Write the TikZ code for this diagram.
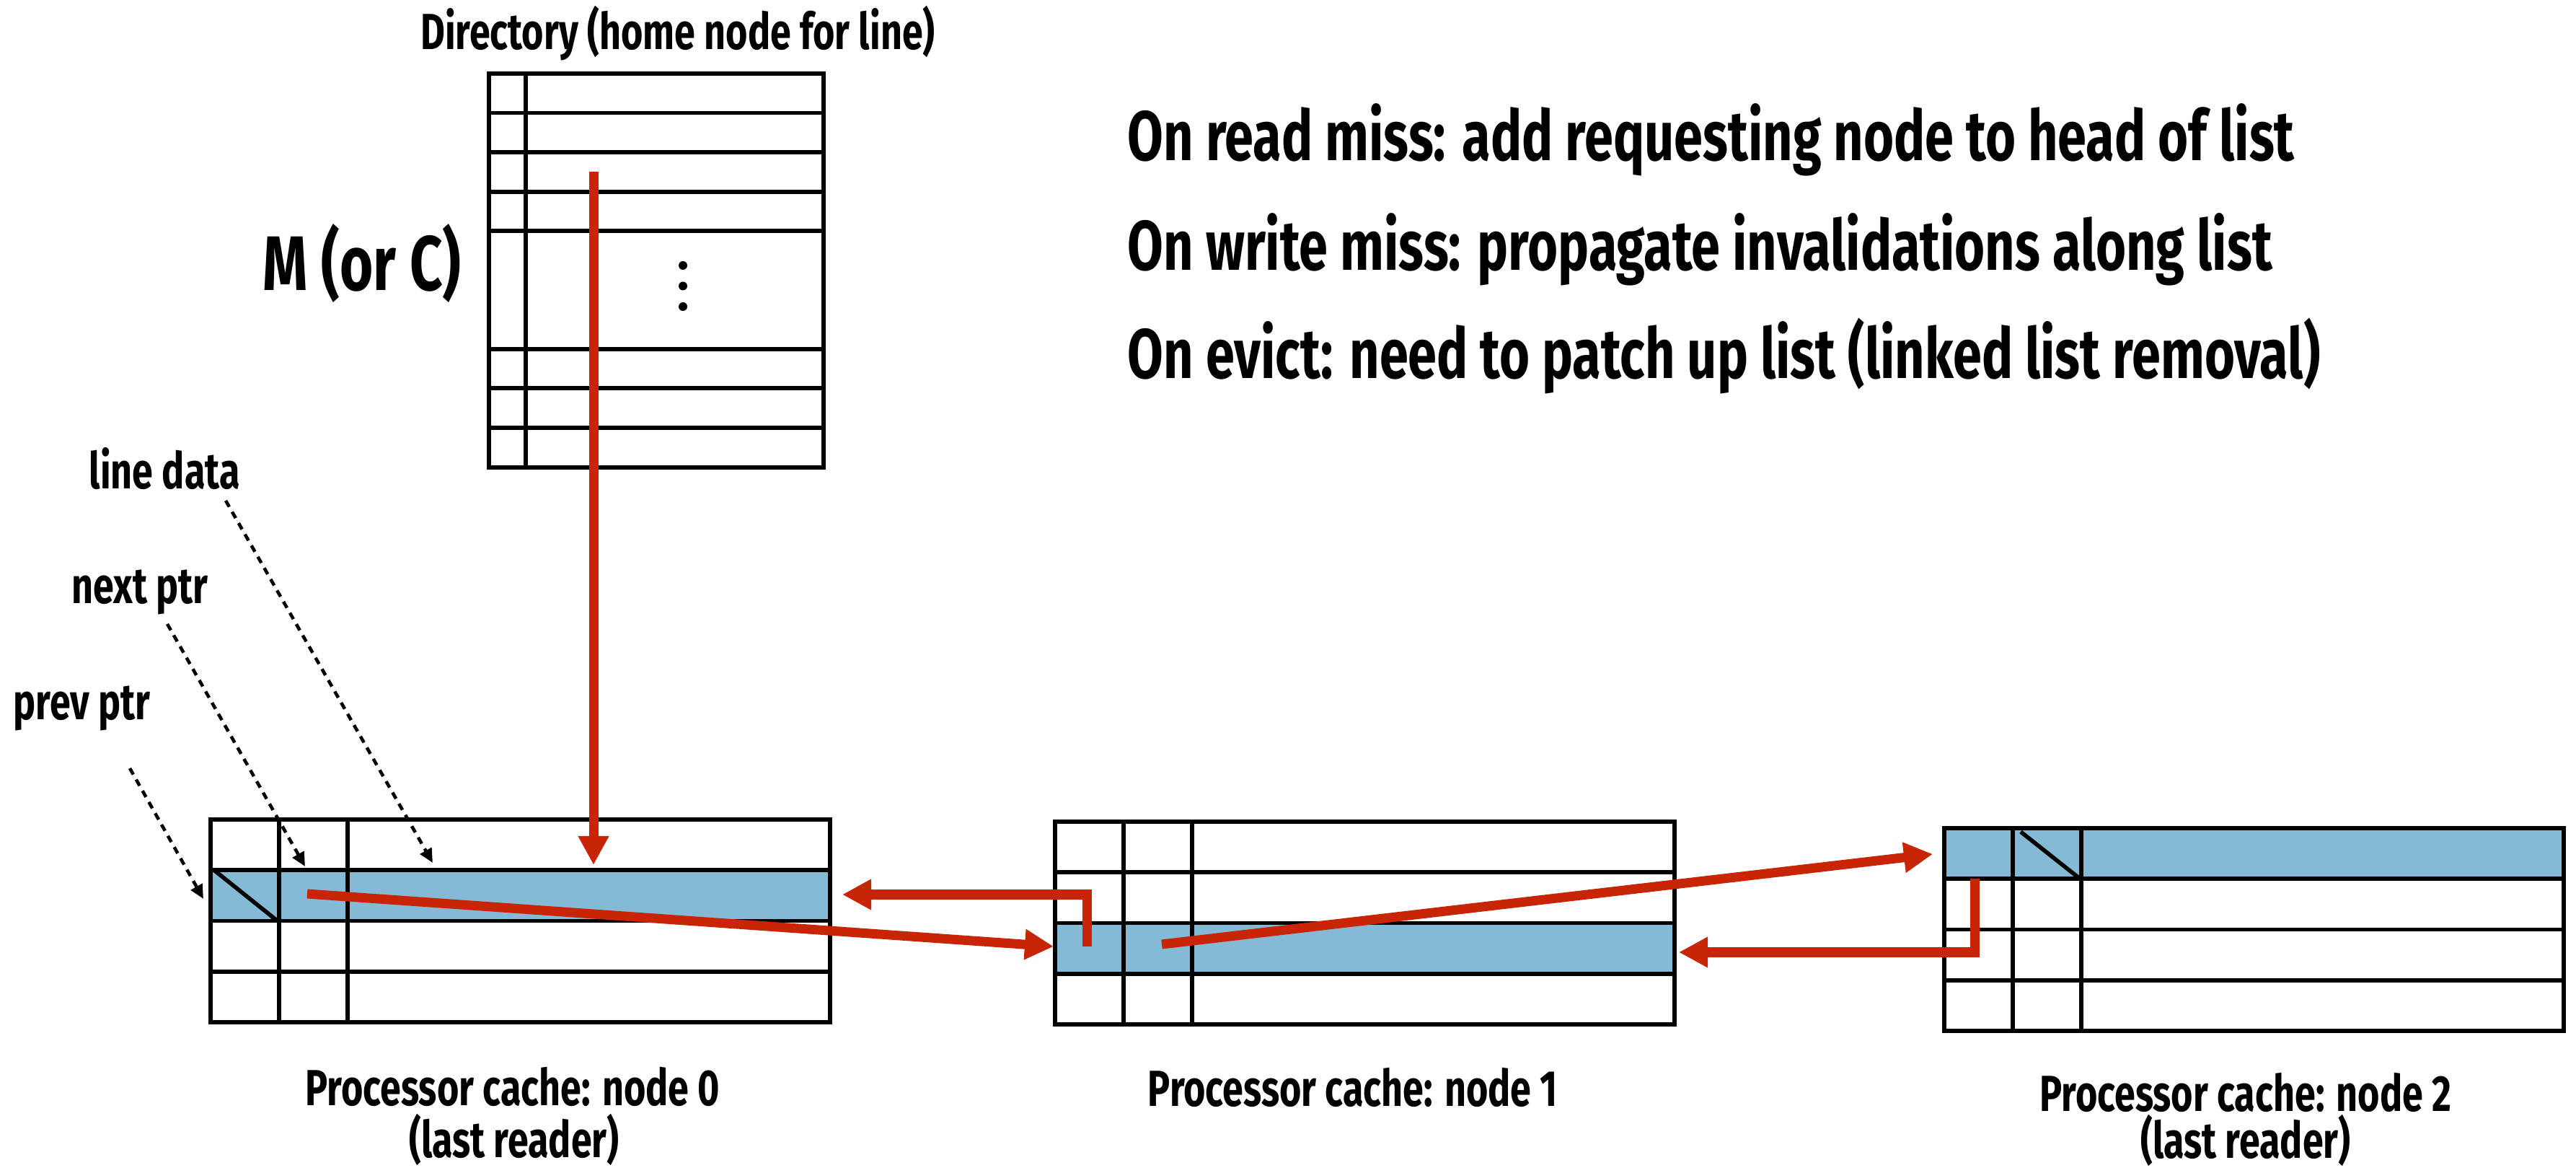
\documentclass[tikz,border=0pt]{standalone}
\usepackage{fontspec}
\setmainfont{Fira Sans}[FakeStretch=0.74]
\usetikzlibrary{calc}
\usetikzlibrary{arrows.meta}
\usetikzlibrary{positioning}

\definecolor{listred}{RGB}{200,37,6}
\definecolor{lineblue}{RGB}{133,186,214}

\tikzset{
  cellline/.style={black, line width=1.6pt},
  redarr/.style={draw=listred, line width=3.7pt, -{Triangle[length=0.4cm, width=0.4cm]}},
  ptr/.style={black, line width=1.3pt, dash pattern=on 2.8pt off 2.3pt, -{Triangle[length=5.5pt, width=5pt]}},
  lbl/.style={font=\bfseries\fontsize{20}{23}\selectfont, inner sep=0pt},
  big/.style={font=\bfseries\fontsize{30.5}{35}\selectfont, inner sep=0pt},
  rule/.style={font=\bfseries\fontsize{27.7}{32}\selectfont, inner sep=0pt, anchor=base west},
}

\begin{document}
\begin{tikzpicture}[x=1cm, y=-1cm]
\useasboundingbox (0,0) rectangle (35.72,16.26);

% directory
\coordinate (D) at (6.78,1.02);
\draw[cellline] (D) rectangle ++(4.64,5.46);
\draw[cellline] (7.29,1.02) -- (7.29,6.48);
\foreach \y in {1.566,2.11,2.66,3.20,4.84,5.38,5.93}
  \draw[cellline] (6.78,\y) -- (11.42,\y);
\foreach \y in {3.68,3.965,4.25}
  \fill (9.47,\y) circle (0.06);

% processor caches (index / x / y / highlighted row)
\foreach \n/\x/\y/\h in {0/2.92/11.36/1, 1/14.63/11.39/2, 2/26.96/11.48/0} {
  \begin{scope}[shift={(\x,\y)}]
    \coordinate (c\n) at (0,0);
    \fill[lineblue] (0,\h*0.703) rectangle (8.59,\h*0.703+0.703);
    \draw[cellline] (0,0) rectangle (8.59,2.81);
    \foreach \r in {1,2,3}
      \draw[cellline] (0,\r*0.703) -- (8.59,\r*0.703);
    \draw[cellline] (0.95,0) -- (0.95,2.81);
    \draw[cellline] (1.90,0) -- (1.90,2.81);
  \end{scope}
}
% null pointers
\draw[cellline] ($(c0)+(0.05,0.703)$) -- ($(c0)+(0.92,1.40)$);
\draw[cellline] ($(c2)+(1.06,0.05)$) -- ($(c2)+(1.88,0.70)$);

% labels
\node[lbl, anchor=base] (dirlbl) at (9.40,0.69) {Directory (home node for line)};
\node[big, anchor=base] (mc) at (5.02,4.03) {M (or C)};
\node[rule] (r1) at (15.63,2.23) {On read miss: add requesting node to head of list};
\node[rule] (r2) at (15.63,3.75) {On write miss: propagate invalidations along list};
\node[rule] (r3) at (15.63,5.25) {On evict: need to patch up list (linked list removal)};

\node[lbl, anchor=base west] (ldata) at (1.23,6.78) {line data};
\node[lbl, anchor=base west] (nptr) at (0.99,8.37) {next ptr};
\node[lbl, anchor=base west] (pptr) at (0.18,9.98) {prev ptr};

\node[lbl, anchor=base] (cap0) at (7.11,15.32) {Processor cache: node 0};
\node[lbl, anchor=base] (rd0) at (7.13,16.04) {(last reader)};
\node[lbl, anchor=base] (cap1) at (18.76,15.33) {Processor cache: node 1};
\node[lbl, anchor=base] (cap2) at (31.14,15.40) {Processor cache: node 2};
\node[lbl, anchor=base] (rd2) at (31.14,16.05) {(last reader)};

% field pointers
\coordinate (ld-a) at (3.13,6.94);
\coordinate (ld-b) at (6.00,11.96);
\coordinate (np-a) at (2.32,8.65);
\coordinate (np-b) at (4.23,12.01);
\coordinate (pp-a) at (1.80,10.65);
\coordinate (pp-b) at (2.82,12.46);
\draw[ptr] (ld-a) -- (ld-b);
\draw[ptr] (np-a) -- (np-b);
\draw[ptr] (pp-a) -- (pp-b);

% sharing list
\coordinate (d-out) at (8.23,2.38);
\coordinate (c0-in) at (8.23,11.99);
\coordinate (c0-nxt) at (4.26,12.39);
\coordinate (c0-right) at (11.68,12.40);
\coordinate (c1-left) at (14.61,13.12);
\coordinate (c1-prv) at (15.07,13.12);
\coordinate (c1-nxt) at (16.11,13.09);
\coordinate (c1-right) at (23.28,13.20);
\coordinate (c2-left) at (26.80,11.84);
\coordinate (c2-prv) at (27.38,12.18);

\draw[redarr] (d-out) -- (c0-in);
\draw[redarr] (c0-nxt) -- (c1-left);
\draw[redarr] (c1-prv) |- (c0-right);
\draw[redarr] (c1-nxt) -- (c2-left);
\draw[redarr] (c2-prv) |- (c1-right);
\end{tikzpicture}
\end{document}
